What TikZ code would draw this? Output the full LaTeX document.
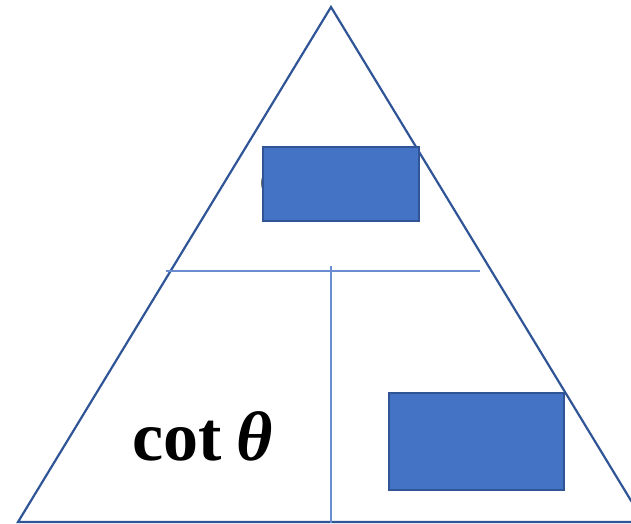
\documentclass[tikz,border=0pt]{standalone}
\usepackage{fontspec}
\setmainfont{Liberation Serif}
\definecolor{edgeblue}{HTML}{2F5597}
\definecolor{fillblue}{HTML}{4472C4}
\definecolor{lineblue}{HTML}{6A8CD0}
\tikzset{
  tri/.style={draw=edgeblue, line width=2.2pt, line join=miter},
  divider/.style={draw=lineblue, line width=1.3pt},
  cover/.style={draw=edgeblue, fill=fillblue, line width=1.8pt},
  label/.style={inner sep=0pt, font=\fontsize{70}{70}\selectfont\bfseries}
}
\begin{document}
\begin{tikzpicture}[x=1pt,y=-1pt]
\useasboundingbox (0,0) rectangle (631,523);
\clip (0,0) rectangle (631,523);
% outer triangle
\coordinate (apex) at (331,7);
\coordinate (bl) at (18,522);
\coordinate (br) at (644,522);
\draw[tri] (apex) -- (bl) -- (br) -- cycle;
% dividing lines
\coordinate (hl) at (166,271);
\coordinate (hr) at (480,271);
\coordinate (vt) at (331,266);
\coordinate (vb) at (331,523);
\draw[divider] (hl) -- (hr);
\draw[divider] (vt) -- (vb);
% partly covered upper label
\node[label, anchor=west] (toptext) at (259,183) {c};
% lower left label
\node[label, anchor=base west] (cot) at (132,460) {cot\hspace{0.22em}\textit{θ}};
% covering boxes
\draw[cover] (263,147) rectangle (419,221);
\draw[cover] (389,393) rectangle (564,490);
\end{tikzpicture}
\end{document}
